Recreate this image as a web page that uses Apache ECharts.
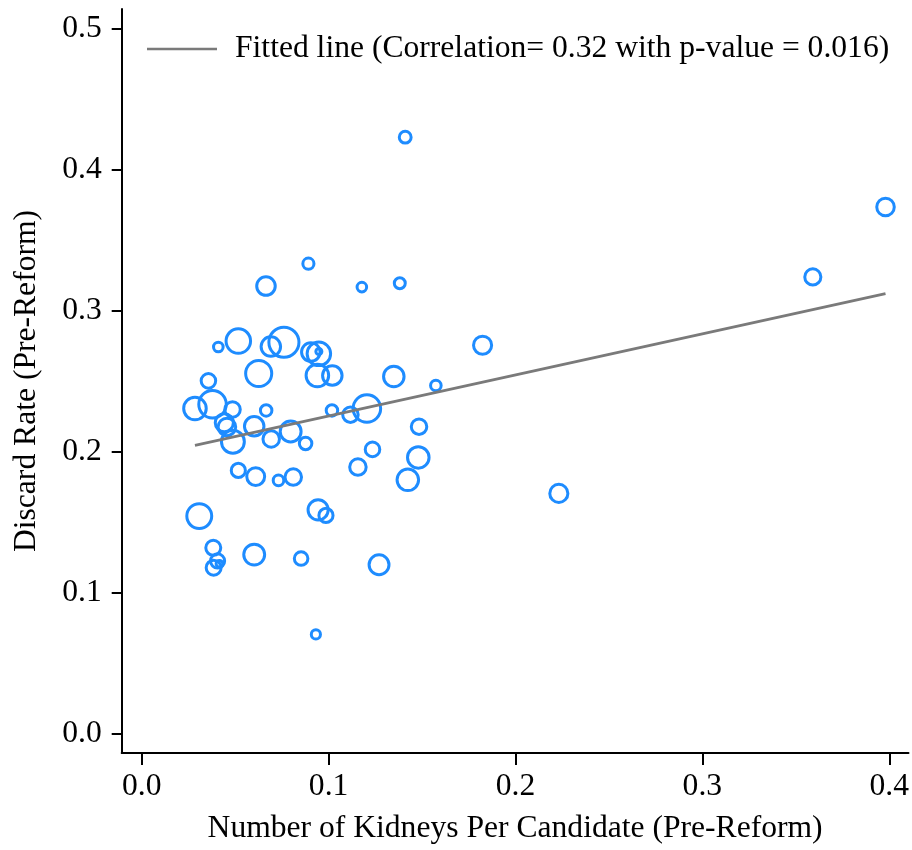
<!DOCTYPE html>
<html>
<head>
<meta charset="utf-8">
<script src="https://cdn.jsdelivr.net/npm/echarts@6/dist/echarts.min.js"></script>
<style>
  html, body { margin: 0; padding: 0; background: #fff; }
  #chart { width: 912px; height: 850px; }
</style>
</head>
<body>
<div id="chart"></div>
<script>
// Kidneys per candidate vs. discard rate, pre-reform (one point per unit)
const kidneysPerCandidate = [
  0.0410, 0.0517, 0.0691, 0.0761, 0.0905, 0.0948, 0.0948, 0.0626, 0.0940, 0.1020,
  0.1349, 0.1574, 0.0357, 0.0285, 0.0379, 0.0486, 0.0666, 0.1018, 0.1117, 0.1205,
  0.0442, 0.0456, 0.0488, 0.0602, 0.0797, 0.0693, 0.0877, 0.1484, 0.1235, 0.1480,
  0.1157, 0.1424, 0.0517, 0.0610, 0.0732, 0.0811, 0.0308, 0.0944, 0.0986, 0.0383,
  0.0602, 0.0853, 0.1270, 0.0385, 0.0406, 0.0416, 0.1824, 0.0932, 0.2232, 0.1410,
  0.3980, 0.3591, 0.0892, 0.0665, 0.1178, 0.1381
];
const discardRate = [
  0.2741, 0.2783, 0.2744, 0.2775, 0.2705, 0.2693, 0.2709, 0.2553, 0.2539, 0.2539,
  0.2532, 0.2468, 0.2501, 0.2305, 0.2335, 0.2298, 0.2291, 0.2291, 0.2261, 0.2305,
  0.2204, 0.2174, 0.2069, 0.2179, 0.2142, 0.2089, 0.2057, 0.2176, 0.2015, 0.1958,
  0.1890, 0.1799, 0.1866, 0.1822, 0.1795, 0.1819, 0.1542, 0.1586, 0.1547, 0.1317,
  0.1269, 0.1241, 0.1197, 0.1176, 0.1224, 0.1204, 0.2754, 0.0703, 0.1703, 0.4229,
  0.3734, 0.3238, 0.3332, 0.3173, 0.3166, 0.3193
];
// Analytic weights (marker area is proportional to weight)
const weights = [
  23, 150, 95, 226, 86, 138, 9, 170, 127, 95,
  105, 28, 53, 127, 189, 60, 33, 33, 60, 189,
  82, 77, 131, 95, 109, 68, 39, 60, 53, 116,
  68, 116, 50, 80, 28, 68, 155, 101, 50, 56,
  109, 46, 99, 56, 50, 11, 82, 21, 82, 35,
  77, 65, 31, 86, 23, 30
];

// Weighted linear fit
const fitIntercept = 0.1961;
const fitSlope = 0.291;
const fitLabel = 'Fitted line (Correlation= 0.32 with p-value = 0.016)';

const xTicks = [0, 0.1, 0.2, 0.3, 0.4];
const yTicks = [0, 0.1, 0.2, 0.3, 0.4, 0.5];
const xTitle = 'Number of Kidneys Per Candidate (Pre-Reform)';
const yTitle = 'Discard Rate (Pre-Reform)';

const FONT = '"Liberation Serif", "Times New Roman", serif';
const FS = 31.6;
const BLUE = '#1e8cff';
const GREY = '#7a7a7a';

const points = kidneysPerCandidate.map((x, i) => [x, discardRate[i], weights[i]]);
const xLo = Math.min(...kidneysPerCandidate);
const xHi = Math.max(...kidneysPerCandidate);
const fitData = [xLo, xHi].map(x => [x, fitIntercept + fitSlope * x]);

const axisCommon = {
  splitLine: { show: false },
  axisLine: { show: true, onZero: false, lineStyle: { color: '#000', width: 2 } },
  nameLocation: 'middle',
  nameTextStyle: { fontFamily: FONT, fontSize: FS, color: '#000' }
};

const chart = echarts.init(document.getElementById('chart'), null, { renderer: 'canvas' });
chart.setOption({
  animation: false,
  backgroundColor: '#fff',
  grid: { left: 121.7, right: 3, top: 9, bottom: 96 },
  legend: {
    show: true,
    data: [{ name: fitLabel, icon: 'rect' }],
    left: 147,
    top: 32,
    padding: 0,
    itemWidth: 70,
    itemHeight: 2.6,
    selectedMode: false,
    itemStyle: { color: GREY, borderWidth: 0 },
    textStyle: { fontFamily: FONT, fontSize: FS, color: '#000', lineHeight: 34, padding: [0, 0, 0, 13] }
  },
  xAxis: Object.assign({}, axisCommon, {
    type: 'value',
    min: -0.0107,
    max: 0.4103,
    name: xTitle,
    nameGap: 60,
    axisTick: { show: true, length: 12, lineStyle: { color: '#000', width: 2 }, customValues: xTicks },
    axisLabel: {
      customValues: xTicks, margin: 18,
      fontFamily: FONT, fontSize: FS, color: '#000',
      formatter: v => v.toFixed(1)
    }
  }),
  yAxis: Object.assign({}, axisCommon, {
    type: 'value',
    min: -0.0138,
    max: 0.5138,
    name: yTitle,
    nameGap: 79,
    axisTick: { show: true, length: 10, lineStyle: { color: '#000', width: 2 }, customValues: yTicks },
    axisLabel: {
      customValues: yTicks, margin: 20,
      fontFamily: FONT, fontSize: FS, color: '#000',
      formatter: v => v.toFixed(1)
    }
  }),
  series: [
    {
      type: 'scatter',
      name: 'units',
      data: points,
      symbol: 'circle',
      symbolSize: v => 2 * Math.sqrt(v[2]),
      itemStyle: { color: 'rgba(0,0,0,0)', borderColor: BLUE, borderWidth: 3, opacity: 1 },
      emphasis: { disabled: true },
      z: 2
    },
    {
      type: 'line',
      name: fitLabel,
      data: fitData,
      symbol: 'none',
      showSymbol: false,
      lineStyle: { color: GREY, width: 2.8 },
      itemStyle: { color: GREY },
      emphasis: { disabled: true },
      z: 3
    }
  ]
});
</script>
</body>
</html>
